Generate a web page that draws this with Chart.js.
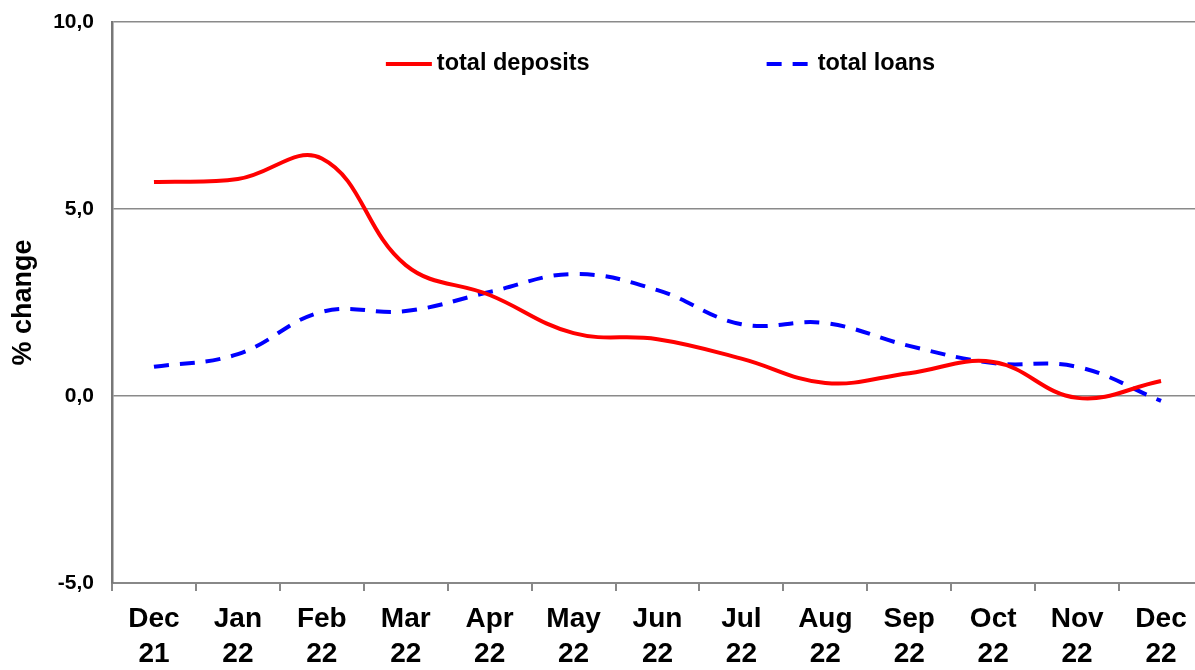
<!DOCTYPE html>
<html>
<head>
<meta charset="utf-8">
<script src="https://cdn.jsdelivr.net/npm/chart.js@4"></script>
<style>
  html, body { margin: 0; padding: 0; background: #fff; overflow: hidden; }
  #wrap { width: 1205px; height: 670px; }
</style>
</head>
<body>
<div id="wrap"><canvas id="chart" width="1205" height="670"></canvas></div>
<script>
const months = [['Dec', '21'], ['Jan', '22'], ['Feb', '22'], ['Mar', '22'], ['Apr', '22'], ['May', '22'],
  ['Jun', '22'], ['Jul', '22'], ['Aug', '22'], ['Sep', '22'], ['Oct', '22'], ['Nov', '22'], ['Dec', '22']];
const totalDeposits = [5.72, 5.8, 6.35, 3.5, 2.7, 1.68, 1.52, 1.0, 0.35, 0.61, 0.91, -0.05, 0.4];
const totalLoans = [0.78, 1.12, 2.25, 2.27, 2.78, 3.26, 2.83, 1.92, 1.95, 1.34, 0.88, 0.78, -0.13];
const yTicks = [-5, 0, 5, 10];

const FONT = 'Arial, "Liberation Sans", sans-serif';

// legend drawn inside the plot, two items far apart
const insideLegend = {
  id: 'insideLegend',
  afterDraw(chart) {
    const ctx = chart.ctx;
    const area = chart.chartArea;
    const lineLen = 46, gap = 5, itemGap = 177;
    ctx.save();
    ctx.font = 'bold 23.5px ' + FONT;
    const items = chart.data.datasets.map(ds => ({ ds, w: ctx.measureText(ds.label).width }));
    let total = itemGap * (items.length - 1);
    items.forEach(it => total += lineLen + gap + it.w);
    let x = (area.left + area.right) / 2 - total / 2 + 3;
    const y = area.top + 42;
    items.forEach(it => {
      ctx.strokeStyle = it.ds.borderColor;
      ctx.lineWidth = it.ds.borderWidth;
      ctx.setLineDash(it.ds.borderDash || []);
      ctx.beginPath();
      ctx.moveTo(x, y);
      ctx.lineTo(x + lineLen, y);
      ctx.stroke();
      ctx.setLineDash([]);
      ctx.fillStyle = '#000';
      ctx.textBaseline = 'middle';
      ctx.fillText(it.ds.label, x + lineLen + gap, y);
      x += lineLen + gap + it.w + itemGap;
    });
    ctx.restore();
  }
};

new Chart(document.getElementById('chart'), {
  type: 'line',
  data: {
    labels: months,
    datasets: [{
      label: 'total deposits',
      data: totalDeposits,
      borderColor: '#ff0000',
      borderWidth: 4,
      pointRadius: 0,
      tension: 0.4
    }, {
      label: 'total loans',
      data: totalLoans,
      borderColor: '#0000ff',
      borderWidth: 4,
      borderDash: [15, 11],
      pointRadius: 0,
      tension: 0.4
    }]
  },
  options: {
    responsive: false,
    animation: false,
    layout: { padding: { top: 22, right: 2, left: 0, bottom: 0 } },
    plugins: {
      legend: { display: false },
      tooltip: { enabled: false }
    },
    scales: {
      x: {
        offset: true,
        grid: { offset: true, drawOnChartArea: false, drawTicks: true, tickLength: 8, color: '#888', lineWidth: 2 },
        border: { color: '#888', width: 2 },
        ticks: {
          color: '#000',
          font: { family: FONT, size: 28, weight: 'bold', lineHeight: 1.28 },
          padding: 10,
          maxRotation: 0,
          autoSkip: false
        },
        afterFit(axis) {
          axis.height = 87;
          axis.paddingLeft = 0;
          axis.paddingRight = 0;
        }
      },
      y: {
        min: -5,
        max: 10,
        afterBuildTicks(axis) { axis.ticks = yTicks.map(v => ({ value: v })); },
        grid: { color: '#8a8a8a', lineWidth: 1.5, drawTicks: false },
        border: { color: '#777', width: 2.5 },
        ticks: {
          color: '#000',
          padding: 18,
          font: { family: FONT, size: 21, weight: 'bold' },
          callback: v => v.toFixed(1).replace('.', ',')
        },
        title: {
          display: true,
          text: '% change',
          color: '#000',
          font: { family: FONT, size: 27, weight: 'bold' },
          padding: { top: 7, bottom: 0 }
        },
        afterFit(axis) {
          axis.width = 112;
          axis.paddingTop = 0;
          axis.paddingBottom = 0;
        }
      }
    }
  },
  plugins: [insideLegend]
});
</script>
</body>
</html>
